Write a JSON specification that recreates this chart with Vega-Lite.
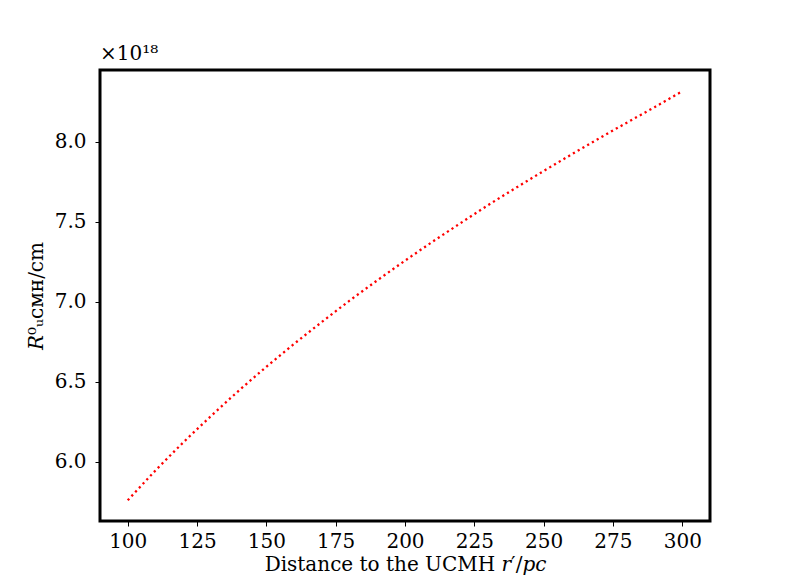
{
  "$schema": "https://vega.github.io/schema/vega-lite/v6.json",
  "autosize": "none",
  "width": 610,
  "height": 451,
  "padding": {"left": 100, "top": 70, "right": 79, "bottom": 66},
  "background": "white",
  "title": {
    "text": "×10¹⁸",
    "anchor": "start",
    "frame": "group",
    "font": "DejaVu Serif",
    "fontSize": 20,
    "fontWeight": "normal",
    "color": "black",
    "baseline": "alphabetic",
    "offset": -10
  },
  "config": {
    "view": {"stroke": "black", "strokeWidth": 3},
    "axis": {
      "domain": false,
      "grid": false,
      "ticks": true,
      "tickColor": "black",
      "tickSize": 5,
      "tickWidth": 1,
      "labelFont": "DejaVu Serif",
      "labelFontSize": 20,
      "labelColor": "black",
      "titleFont": "DejaVu Serif",
      "titleFontSize": 20,
      "titleFontWeight": "normal",
      "titleColor": "black"
    }
  },
  "data": {
    "values": [
      {"r": 100, "R0": 5.760},
      {"r": 110, "R0": 5.946},
      {"r": 120, "R0": 6.121},
      {"r": 130, "R0": 6.286},
      {"r": 140, "R0": 6.444},
      {"r": 150, "R0": 6.594},
      {"r": 160, "R0": 6.737},
      {"r": 170, "R0": 6.874},
      {"r": 180, "R0": 7.007},
      {"r": 190, "R0": 7.134},
      {"r": 200, "R0": 7.257},
      {"r": 210, "R0": 7.376},
      {"r": 220, "R0": 7.491},
      {"r": 230, "R0": 7.604},
      {"r": 240, "R0": 7.712},
      {"r": 250, "R0": 7.817},
      {"r": 260, "R0": 7.920},
      {"r": 270, "R0": 8.021},
      {"r": 280, "R0": 8.119},
      {"r": 290, "R0": 8.216},
      {"r": 300, "R0": 8.315}
    ]
  },
  "mark": {
    "type": "line",
    "color": "#ff0000",
    "strokeWidth": 2.3,
    "strokeDash": [2.2, 3.3],
    "interpolate": "monotone"
  },
  "encoding": {
    "x": {
      "field": "r",
      "type": "quantitative",
      "scale": {"domain": [90, 310], "nice": false, "zero": false},
      "axis": {
        "values": [100, 125, 150, 175, 200, 225, 250, 275, 300],
        "labelPadding": 5,
        "title": "Distance to the UCMH 𝑟′/𝑝𝑐",
        "titlePadding": 3
      }
    },
    "y": {
      "field": "R0",
      "type": "quantitative",
      "scale": {"domain": [5.631, 8.448], "nice": false, "zero": false},
      "axis": {
        "values": [6.0, 6.5, 7.0, 7.5, 8.0],
        "format": ".1f",
        "labelPadding": 9,
        "title": "𝑅⁰ᵤᴄᴍʜ/cm",
        "titlePadding": 8
      }
    }
  }
}
